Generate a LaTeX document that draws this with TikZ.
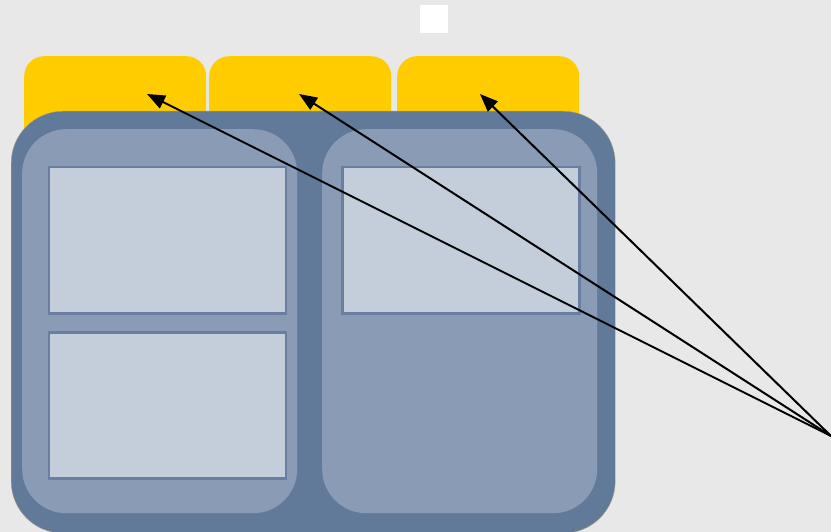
\documentclass[tikz,border=0pt]{standalone}
\usetikzlibrary{arrows.meta}
\definecolor{bgcol}{HTML}{E8E8E8}
\definecolor{tabcol}{HTML}{FFCC00}
\definecolor{outercol}{HTML}{627A9A}
\definecolor{panelcol}{HTML}{8A9CB5}
\definecolor{boxcol}{HTML}{C4CEDB}
\definecolor{boxline}{HTML}{6A7FA0}
\definecolor{rimcol}{HTML}{A8A27A}
\tikzset{
  tab/.style={fill=tabcol, draw=none, rounded corners=20pt, minimum width=182pt, minimum height=150pt, inner sep=0pt, anchor=north west},
  outer/.style={fill=outercol, draw=rimcol, line width=0.4pt, rounded corners=52pt, minimum width=604pt, minimum height=422pt, inner sep=0pt, anchor=north west},
  panel/.style={fill=panelcol, draw=none, rounded corners=44pt, minimum width=275pt, minimum height=384pt, inner sep=0pt, anchor=north west},
  box/.style={fill=boxcol, draw=boxline, line width=2.5pt, minimum width=237pt, minimum height=146pt, inner sep=0pt, anchor=north west},
  sq/.style={fill=white, draw=none, minimum size=28pt, inner sep=0pt, anchor=north west},
  arr/.style={draw=black, line width=2pt, -{Triangle[length=18pt,width=14pt]}}
}
\begin{document}
\begin{tikzpicture}[x=1pt,y=-1pt]
\fill[bgcol] (0,0) rectangle (831,532);
\useasboundingbox (0,0) rectangle (831,532);
\node[sq] (square) at (420,5) {};
\node[tab] (tab1) at (24,56) {};
\node[tab] (tab2) at (209,56) {};
\node[tab] (tab3) at (397,56) {};
\node[outer] (outer) at (11,111) {};
\node[panel] (panelL) at (22,129) {};
\node[panel] (panelR) at (322,129) {};
\node[box] (box1) at (47.5,166) {};
\node[box] (box2) at (47.5,331) {};
\node[box] (box3) at (341,166) {};
\coordinate (src) at (831,436);
\coordinate (t1) at (147,94);
\coordinate (t2) at (299,94);
\coordinate (t3) at (480,94);
\draw[arr] (src) -- (t1);
\draw[arr] (src) -- (t2);
\draw[arr] (src) -- (t3);
\end{tikzpicture}
\end{document}
